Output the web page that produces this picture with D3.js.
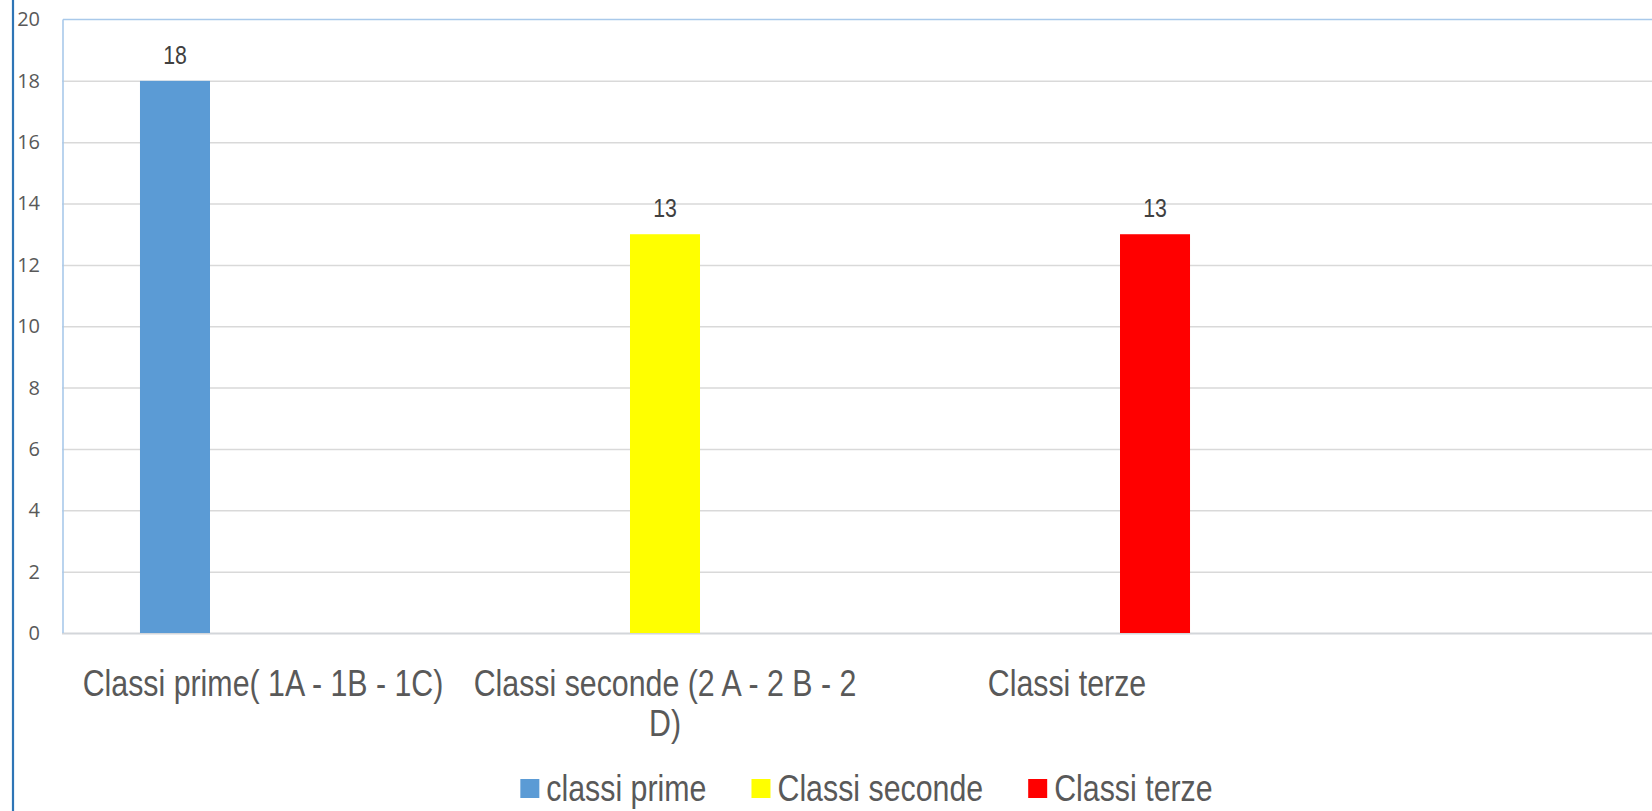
<!DOCTYPE html>
<html>
<head>
<meta charset="utf-8">
<script src="https://cdn.jsdelivr.net/npm/d3@7"></script>
<style>
  html, body { margin: 0; padding: 0; background: #fff; overflow: hidden; }
  svg { display: block; }
</style>
</head>
<body>
<svg id="chart" width="1652" height="811"></svg>
<script>
// ---- data ----
const categories = ["Classi prime( 1A - 1B - 1C)", "Classi seconde (2 A - 2 B - 2 D)", "Classi terze"];
const seriesNames = ["classi prime", "Classi seconde", "Classi terze"];
const seriesColors = ["#5b9bd5", "#ffff00", "#ff0000"];
const valuesPrime   = [18, null, null];
const valuesSeconde = [null, 13, null];
const valuesTerze   = [null, null, 13];
const yTicks = [0, 2, 4, 6, 8, 10, 12, 14, 16, 18, 20];

const seriesValues = [valuesPrime, valuesSeconde, valuesTerze];

// ---- layout ----
const W = 1652, H = 811;
const plotLeft = 62, plotTop = 19.5, plotBottom = 633, plotRight = 1700;
const bandW = 402;
const NARROW = 0.82;
const narrowFont = "'Liberation Sans', Arial, sans-serif";

const svg = d3.select("#chart");

const y = d3.scaleLinear().domain([0, 20]).range([plotBottom, plotTop]);
const x0 = d3.scaleBand().domain(categories)
  .range([plotLeft, plotLeft + bandW * categories.length])
  .paddingInner(0).paddingOuter(0);
const x1 = d3.scaleBand().domain(seriesNames)
  .range([0, x0.bandwidth()])
  .paddingInner(18 / 88).paddingOuter(0.886);

// outer frame left line
svg.append("line")
  .attr("x1", 13).attr("x2", 13).attr("y1", 0).attr("y2", H)
  .attr("stroke", "#2e75b6").attr("stroke-width", 2.2);

// gridlines
const grid = svg.append("g")
  .attr("transform", `translate(${plotLeft},0)`)
  .call(d3.axisLeft(y).tickValues(yTicks).tickSize(-(plotRight - plotLeft)).tickFormat(""));
grid.select(".domain").remove();
grid.selectAll(".tick line")
  .attr("stroke", d => d === 0 ? "#d3d6da" : "#d9d9d9")
  .attr("stroke-width", d => d === 0 ? 2 : 1.5)
  .attr("opacity", d => d === 20 ? 0 : 1);

// plot area border (top + left), light blue
svg.append("line")
  .attr("x1", plotLeft + 1).attr("x2", W).attr("y1", y(20)).attr("y2", y(20))
  .attr("stroke", "#a9c9ea").attr("stroke-width", 1.6);
svg.append("line")
  .attr("x1", plotLeft + 1).attr("x2", plotLeft + 1).attr("y1", y(20)).attr("y2", y(0))
  .attr("stroke", "#a9c9ea").attr("stroke-width", 1.6);

// y axis labels
const yAxis = svg.append("g")
  .attr("transform", "translate(40,0)")
  .call(d3.axisLeft(y).tickValues(yTicks).tickSize(0).tickPadding(0));
yAxis.select(".domain").remove();
yAxis.selectAll("text")
  .attr("fill", "#595959")
  .style("font-family", "'Open Sans', sans-serif")
  .style("font-size", "20px");

// bars + data labels
categories.forEach((cat, ci) => {
  seriesNames.forEach((s, si) => {
    const v = seriesValues[si][ci];
    if (v == null) return;
    const bx = x0(cat) + x1(s);
    svg.append("rect")
      .attr("x", bx).attr("y", y(v))
      .attr("width", x1.bandwidth()).attr("height", y(0) - y(v))
      .attr("fill", seriesColors[si]);
    svg.append("text")
      .attr("transform", `translate(${bx + x1.bandwidth() / 2},${y(v) - 17}) scale(${NARROW},1)`)
      .attr("text-anchor", "middle")
      .attr("fill", "#404040")
      .style("font-family", narrowFont)
      .style("font-size", "26px")
      .text(v);
  });
});

// category axis
const xAxis = svg.append("g")
  .attr("transform", `translate(0,${plotBottom})`)
  .call(d3.axisBottom(x0).tickSize(0).tickPadding(0));
xAxis.select(".domain").remove();

const catFont = 37;
const lineH = 40;
xAxis.selectAll(".tick text").each(function(d) {
  const t = d3.select(this);
  t.text(null)
    .attr("y", null).attr("dy", null)
    .attr("transform", `translate(0,63) scale(${NARROW},1)`)
    .attr("text-anchor", "middle")
    .attr("fill", "#595959")
    .style("font-family", narrowFont)
    .style("font-size", catFont + "px");
  const words = d.split(" ");
  const maxW = (bandW - 6) / NARROW;
  let lines = [], cur = [];
  const probe = t.append("tspan");
  words.forEach(w => {
    const test = cur.concat([w]).join(" ");
    probe.text(test);
    if (probe.node().getComputedTextLength() > maxW && cur.length) {
      lines.push(cur.join(" "));
      cur = [w];
    } else cur.push(w);
  });
  lines.push(cur.join(" "));
  probe.remove();
  lines.forEach((ln, i) => {
    t.append("tspan").attr("x", 0).attr("y", i * lineH).text(ln);
  });
});

// legend
const legend = svg.append("g");
const legFont = 37, sq = 19, sqGap = 7, itemGap = 45;
let lx = 0;
const items = [];
seriesNames.forEach((s, i) => {
  const g = legend.append("g");
  g.append("rect").attr("x", 0).attr("y", 779).attr("width", sq).attr("height", sq)
    .attr("fill", seriesColors[i]);
  const tx = g.append("text")
    .attr("transform", `translate(${sq + sqGap},801) scale(${NARROW},1)`)
    .attr("fill", "#595959")
    .style("font-family", narrowFont)
    .style("font-size", legFont + "px")
    .text(s);
  const w = sq + sqGap + tx.node().getComputedTextLength() * NARROW;
  items.push({ g, w });
});
const total = items.reduce((a, b) => a + b.w, 0) + itemGap * (items.length - 1);
lx = 866.5 - total / 2;
items.forEach(it => {
  it.g.attr("transform", `translate(${lx},0)`);
  lx += it.w + itemGap;
});
</script>
</body>
</html>
